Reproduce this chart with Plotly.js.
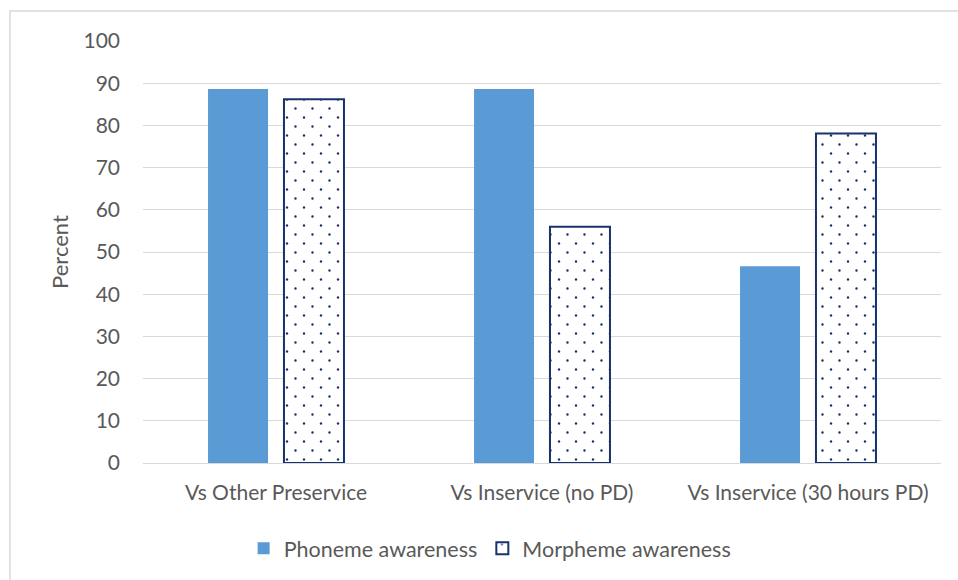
<!DOCTYPE html>
<html>
<head>
<meta charset="utf-8">
<script src="https://cdn.plot.ly/plotly-3.0.1.min.js"></script>
<style>
  html, body { margin: 0; padding: 0; background: #ffffff; }
  #chart { width: 958px; height: 580px; }
</style>
</head>
<body>
<div id="chart"></div>
<script>
const categories = ["Vs Other Preservice", "Vs Inservice (no PD)", "Vs Inservice (30 hours PD)"];
const phonemeValues = [88.6, 88.6, 46.6];
const morphemeValues = [86.2, 56.0, 78.1];
const seriesNames = ["Phoneme awareness", "Morpheme awareness"];
const yTicks = [0, 10, 20, 30, 40, 50, 60, 70, 80, 90, 100];

const fontFam = "Lato, 'Open Sans', sans-serif";
const textColor = "#595959";
const navy = "#17336E";

const traces = [
  {
    type: "bar",
    name: seriesNames[0],
    x: categories,
    y: phonemeValues,
    marker: { color: "#5B9BD5", line: { width: 0 } },
    hoverinfo: "skip"
  },
  {
    type: "bar",
    name: seriesNames[1],
    x: categories,
    y: morphemeValues,
    marker: {
      color: "#ffffff",
      line: { color: navy, width: 2 },
      pattern: { shape: ".", fgcolor: navy, bgcolor: "#ffffff", size: 17, solidity: 0.03, fillmode: "replace" }
    },
    hoverinfo: "skip"
  }
];

const layout = {
  width: 958,
  height: 580,
  margin: { l: 143, r: 17, t: 41, b: 116 },
  paper_bgcolor: "#ffffff",
  plot_bgcolor: "#ffffff",
  font: { family: fontFam, size: 21, color: textColor },
  barmode: "group",
  bargap: 0.429,
  bargroupgap: 0.21,
  showlegend: true,
  legend: {
    orientation: "h",
    x: 0.435, xanchor: "center",
    y: -0.199, yanchor: "middle",
    font: { family: fontFam, size: 21.5, color: textColor },
    itemwidth: 30,
    traceorder: "normal"
  },
  xaxis: {
    type: "category",
    showgrid: false,
    showline: true,
    linecolor: "#D9D9D9",
    linewidth: 1,
    ticks: "",
    ticklabelstandoff: 11,
    tickfont: { family: fontFam, size: 21, color: textColor },
    fixedrange: true
  },
  yaxis: {
    range: [0, 100],
    tickvals: yTicks,
    ticktext: yTicks.map(String),
    showgrid: true,
    gridcolor: "#D9D9D9",
    gridwidth: 1,
    zeroline: false,
    showline: false,
    ticks: "",
    ticklabelstandoff: 22,
    tickfont: { family: fontFam, size: 21, color: textColor },
    title: { text: "Percent", font: { family: fontFam, size: 22, color: textColor }, standoff: 8 },
    fixedrange: true
  },
  shapes: [
    {
      type: "rect", xref: "paper", yref: "paper",
      x0: -0.1667, x1: 1.2, y0: -0.6, y1: 1.0709,
      line: { color: "#D9D9D9", width: 1.5 },
      fillcolor: "rgba(0,0,0,0)",
      layer: "below"
    }
  ]
};

function staggerDots() {
  // Replace Plotly's single-dot pattern tiles with a staggered two-dot tile (as in the reference fill)
  const NS = "http://www.w3.org/2000/svg";
  document.querySelectorAll("#chart pattern").forEach(function (p) {
    p.setAttribute("width", "17");
    p.setAttribute("height", "18");
    p.setAttribute("patternUnits", "userSpaceOnUse");
    while (p.firstChild) p.removeChild(p.firstChild);
    const bg = document.createElementNS(NS, "rect");
    bg.setAttribute("width", "17"); bg.setAttribute("height", "18");
    bg.setAttribute("fill", "#ffffff");
    p.appendChild(bg);
    [[8, 4.5], [16.5, 13.5], [-0.5, 13.5]].forEach(function (c) {
      const d = document.createElementNS(NS, "circle");
      d.setAttribute("cx", c[0]); d.setAttribute("cy", c[1]);
      d.setAttribute("r", "1.2");
      d.setAttribute("fill", navy);
      p.appendChild(d);
    });
  });
}

Plotly.newPlot("chart", traces, layout, { displayModeBar: false, staticPlot: true }).then(staggerDots);
</script>
</body>
</html>
